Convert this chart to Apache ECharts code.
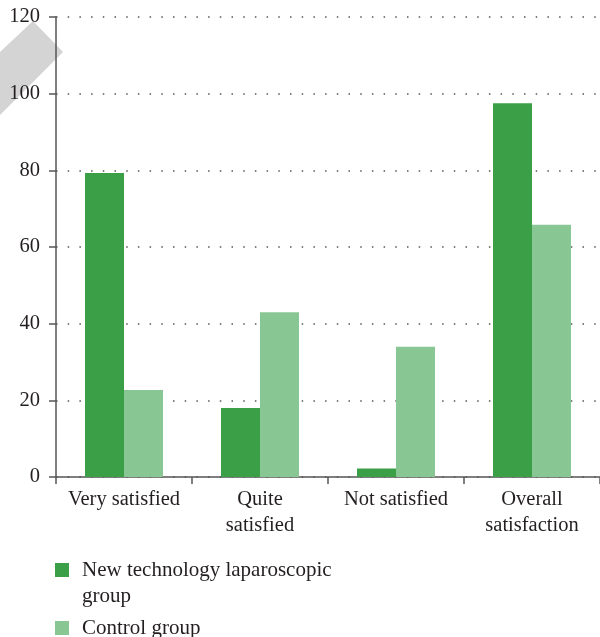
<!DOCTYPE html>
<html>
<head>
<meta charset="utf-8">
<script src="https://cdn.jsdelivr.net/npm/echarts@6/dist/echarts.min.js"></script>
<style>
html,body{margin:0;padding:0;background:#fff;}
#chart{width:600px;height:637px;}
</style>
</head>
<body>
<div id="chart"></div>
<script>
const categories = ['Very satisfied', 'Quite\nsatisfied', 'Not satisfied', 'Overall\nsatisfaction'];
const newTechValues = [79.3, 18.0, 2.2, 97.5];
const controlValues = [22.7, 43.0, 34.0, 65.8];
const seriesNames = ['New technology laparoscopic group', 'Control group'];
const yTicks = [0, 20, 40, 60, 80, 100, 120];

const FONT = '"Liberation Serif", "DejaVu Serif", serif';
const TEXT = '#231f20';
const AXIS = '#555555';

const chart = echarts.init(document.getElementById('chart'), null, {renderer: 'canvas'});
chart.setOption({
  animation: false,
  backgroundColor: '#ffffff',
  textStyle: {fontFamily: FONT},
  graphic: [{
    type: 'polygon',
    z: -10,
    shape: {points: [[33, 21], [63, 52], [0, 115], [0, 52]]},
    style: {fill: '#d4d4d4'}
  }],
  grid: {left: 56, right: 0, top: 17, bottom: 160, containLabel: false},
  legend: [{
    left: 55, top: 531,
    padding: 0,
    orient: 'vertical',
    icon: 'rect',
    itemWidth: 14, itemHeight: 14,
    data: [seriesNames[0]],
    formatter: function () { return '\nNew technology laparoscopic\ngroup'; },
    textStyle: {fontFamily: FONT, fontSize: 21, color: TEXT, lineHeight: 26, padding: [0, 0, 0, 8]},
    selectedMode: false
  }, {
    left: 55, top: 615,
    padding: 0,
    orient: 'vertical',
    icon: 'rect',
    itemWidth: 14, itemHeight: 14,
    data: [seriesNames[1]],
    textStyle: {fontFamily: FONT, fontSize: 21, color: TEXT, lineHeight: 26, padding: [0, 0, 0, 8]},
    selectedMode: false
  }],
  xAxis: {
    type: 'category',
    data: categories,
    axisLine: {show: true, lineStyle: {color: AXIS, width: 1.5}},
    axisTick: {show: true, length: 7, lineStyle: {color: AXIS, width: 1.5}},
    axisLabel: {fontFamily: FONT, fontSize: 20.5, color: TEXT, lineHeight: 26, margin: 10, interval: 0}
  },
  yAxis: {
    type: 'value',
    min: yTicks[0], max: yTicks[yTicks.length - 1], interval: 20,
    axisLine: {show: true, lineStyle: {color: AXIS, width: 1.5}},
    axisTick: {show: true, length: 7, lineStyle: {color: AXIS, width: 1.5}},
    axisLabel: {fontFamily: FONT, fontSize: 20.5, color: TEXT, margin: 16},
    splitLine: {show: true, lineStyle: {color: '#555555', width: 1.5, type: [1.5, 10.2]}}
  },
  series: [{
    name: seriesNames[0],
    type: 'bar',
    data: newTechValues,
    barWidth: 39,
    barGap: '0%',
    itemStyle: {color: '#3a9f46'}
  }, {
    name: seriesNames[1],
    type: 'bar',
    data: controlValues,
    barWidth: 39,
    barGap: '0%',
    itemStyle: {color: '#88c794'}
  }]
});
</script>
</body>
</html>
